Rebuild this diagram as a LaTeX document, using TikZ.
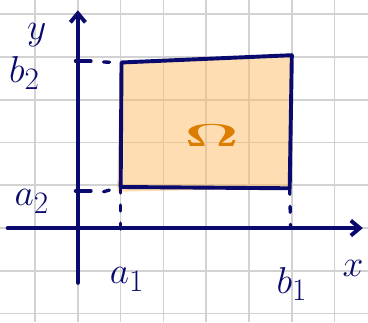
\documentclass[tikz,border=0pt]{standalone}
\usepackage{amsmath,amssymb}
\usepackage{tikz}
\usepackage{xcolor}
\usetikzlibrary{arrows.meta}

\definecolor{penblue}{HTML}{0A0A6E}
\definecolor{penorange}{HTML}{DC7D00}
\definecolor{areafill}{HTML}{FFBB66}
\definecolor{gridgray}{HTML}{D2D2D2}

\tikzset{
  pen/.style={draw=penblue,line width=2.6pt,line cap=round,line join=round},
  guide/.style={draw=penblue,line width=2.2pt,line cap=round,dash pattern=on 4pt off 8pt},
  lbl/.style={text=penblue,font=\fontsize{31}{34}\selectfont,inner sep=0pt},
}

\begin{document}
\begin{tikzpicture}[x=1cm,y=1cm]
\useasboundingbox (-1.82,-2.2) rectangle (6.78,5.33);
% squared paper
\draw[gridgray,line width=1.1pt] (-1.82,-2.2) grid (6.78,5.33);
% the region
\fill[areafill,fill opacity=0.5] (0.92,0.85) -- (0.98,3.87) -- (5.0,4.04) -- (4.95,0.93) -- cycle;
\coordinate (bl) at (1.0,0.96);
\coordinate (tl) at (1.02,3.87);
\coordinate (tr) at (5.0,4.04);
\coordinate (br) at (4.95,0.93);
\draw[pen] (bl) -- (tl) -- (tr) -- (br) -- cycle;
% axes
\coordinate (xs) at (-1.64,0);
\coordinate (xe) at (6.66,0);
\coordinate (ys) at (0,-1.28);
\coordinate (ye) at (0,5.09);
\draw[pen,-{Straight Barb[length=6pt,width=10pt]}] (xs) -- (xe);
\draw[pen,-{Straight Barb[length=6pt,width=10pt]}] (ys) -- (ye);
% guide lines
\coordinate (b2) at (0,3.9);
\coordinate (a2) at (0,0.87);
\coordinate (a1) at (1.0,-0.25);
\coordinate (b1) at (4.97,0);
\draw[pen] (-0.05,3.9) -- (0.3,3.9);
\draw[pen] (-0.05,0.87) -- (0.3,0.87);
\draw[guide] (0.6,3.88) -- (tl);
\draw[guide] (0.6,0.85) -- (bl);
\draw[guide] (bl) -- (a1);
\draw[guide] (br) -- (b1);
% labels
\node[lbl] (ly) at (-0.96,4.5) {$y$};
\node[lbl] (lx) at (6.43,-0.95) {$x$};
\node[lbl] (lb2) at (-1.25,3.62) {$b_2$};
\node[lbl] (la2) at (-1.08,0.62) {$a_2$};
\node[lbl] (la1) at (1.15,-1.2) {$a_1$};
\node[lbl] (lb1) at (5.0,-1.3) {$b_1$};
\node[text=penorange,font=\fontsize{28}{30}\selectfont,xscale=1.8,yscale=0.85] (om) at (3.13,2.17) {$\boldsymbol{\Omega}$};
\end{tikzpicture}
\end{document}
